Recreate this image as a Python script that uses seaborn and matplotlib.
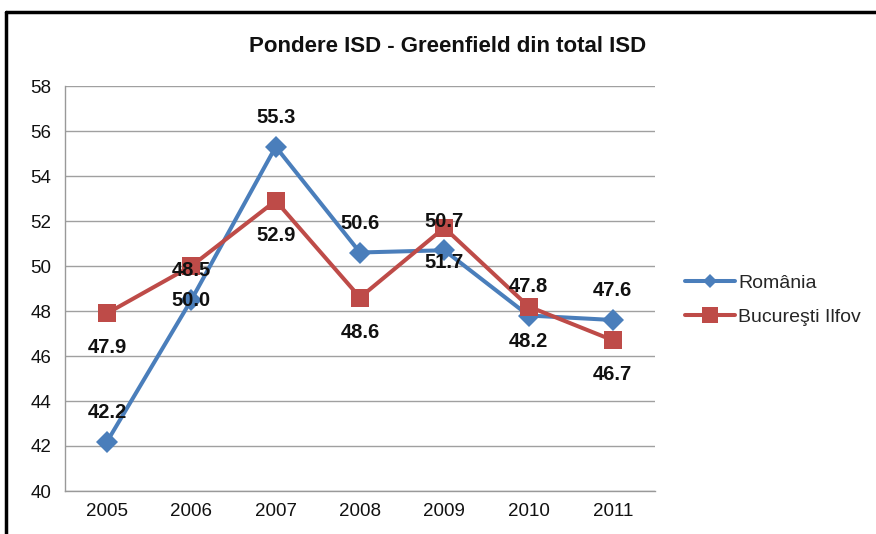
import matplotlib
matplotlib.use("Agg")
import matplotlib.pyplot as plt
from matplotlib.lines import Line2D
import seaborn as sns
import pandas as pd

years = ["2005", "2006", "2007", "2008", "2009", "2010", "2011"]
romania = [42.2, 48.5, 55.3, 50.6, 50.7, 47.8, 47.6]
bucuresti = [47.9, 50.0, 52.9, 48.6, 51.7, 48.2, 46.7]
series_names = ["România", "Bucureşti Ilfov"]
title = "Pondere ISD - Greenfield din total ISD"

sns.set_style("white")
plt.rcParams["font.family"] = ["Liberation Sans", "DejaVu Sans"]

df = pd.DataFrame({
    "year": years * 2,
    "x": list(range(len(years))) * 2,
    "value": romania + bucuresti,
    "series": [series_names[0]] * len(years) + [series_names[1]] * len(years),
})

blue = "#4A7EBB"
red = "#BE4B48"

fig = plt.figure(figsize=(8.76, 5.34), dpi=100)
ax = fig.add_axes([65 / 876, 1 - 491 / 534, (655 - 65) / 876, (491 - 86) / 534])

sns.lineplot(data=df, x="x", y="value", hue="series", style="series",
             palette={series_names[0]: blue, series_names[1]: red},
             markers={series_names[0]: "D", series_names[1]: "s"},
             dashes=False, linewidth=2.9, ax=ax, legend=False,
             markeredgewidth=0)
for line, ms in zip(ax.lines, [11.5, 13]):
    line.set_markersize(ms)

ax.set_ylim(40, 58)
ax.set_xlim(-0.5, len(years) - 0.5)
ax.set_yticks(range(40, 59, 2))
ax.set_xticks(range(len(years)))
ax.set_xticklabels(years)
ax.set_xticks([i - 0.5 for i in range(len(years) + 1)], minor=True)
ax.tick_params(axis="x", which="major", length=0, labelsize=13.5, pad=9, labelcolor="#111111")
ax.tick_params(axis="x", which="minor", length=5, color="#999999", width=1)
ax.tick_params(axis="y", which="major", length=5, color="#999999", width=1,
               labelsize=13.5, pad=5, labelcolor="#111111")
ax.grid(axis="y", color="#A0A0A0", linewidth=1)
ax.set_axisbelow(True)
ax.set_xlabel("")
ax.set_ylabel("")
for s in ["top", "right"]:
    ax.spines[s].set_visible(False)
for s in ["left", "bottom"]:
    ax.spines[s].set_color("#999999")
    ax.spines[s].set_linewidth(1)

for i, v in enumerate(romania):
    ax.annotate(f"{v:.1f}", (i, v), xytext=(0, 21), textcoords="offset points",
                ha="center", va="center", fontsize=14.5, fontweight="bold", color="#111111")
for i, v in enumerate(bucuresti):
    ax.annotate(f"{v:.1f}", (i, v), xytext=(0, -25), textcoords="offset points",
                ha="center", va="center", fontsize=14.5, fontweight="bold", color="#111111")

fig.text(448 / 876, 1 - 47 / 534, title, ha="center", va="center",
         fontsize=16, fontweight="bold", color="#111111")

handles = [
    Line2D([], [], color=blue, marker="D", markersize=7, linewidth=2.9, markeredgewidth=0),
    Line2D([], [], color=red, marker="s", markersize=11, linewidth=2.9, markeredgewidth=0),
]
fig.legend(handles, series_names, loc="center left",
           bbox_to_anchor=(667 / 876, 1 - 300 / 534), frameon=False,
           fontsize=14, handlelength=2.6, handletextpad=0.15, labelspacing=0.85)

# outer chart frame
fig.add_artist(Line2D([6 / 876, 6 / 876], [0, 1 - 12 / 534], color="black", linewidth=2.5))
fig.add_artist(Line2D([6 / 876, 1], [1 - 12 / 534, 1 - 12 / 534], color="black", linewidth=2.5))

fig.savefig("out.png", dpi=100)
